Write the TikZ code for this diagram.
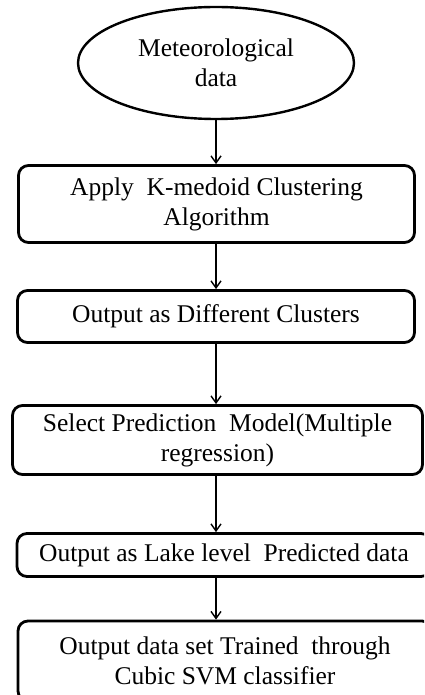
\documentclass[tikz,border=0pt]{standalone}
\usepackage{fontspec}
\setmainfont{Liberation Serif}
\usetikzlibrary{arrows.meta,shapes.geometric}

\begin{document}
\begin{tikzpicture}[x=0.5pt,y=-0.5pt,->,>={Straight Barb[length=3.5pt,width=5pt]},line width=0.7pt,
  start node/.style={ellipse,draw,line width=1.2pt,minimum width=138pt,minimum height=56pt,
    inner sep=0pt,align=center,font=\fontsize{12.75}{15}\selectfont},
  step node/.style={rectangle,rounded corners=5pt,draw,line width=1.4pt,inner sep=0pt,
    align=center,font=\fontsize{12.75}{15}\selectfont}]

  \useasboundingbox (0,0) rectangle (424,695);
  \clip (0,0) rectangle (424,695);

  \node[start node] (m) at (216,63) {Meteorological\\data};
  \node[step node,minimum width=198pt,minimum height=38.5pt] (k) at (216.5,204) {Apply\ \ K-medoid Clustering\\Algorithm};
  \node[step node,minimum width=198.5pt,minimum height=26pt] (c) at (216,316.5) {Output as Different Clusters};
  \node[step node,minimum width=205pt,minimum height=34.5pt] (s) at (217.5,440) {Select Prediction\ \ Model(Multiple\\regression)};
  \node[step node,minimum width=207pt,minimum height=21.5pt] (l) at (224,555) {Output as Lake level\ \ Predicted data};
  \node[step node,minimum width=207pt,minimum height=40pt] (t) at (225,661) {Output data set Trained\ \ through\\Cubic SVM classifier};

  \path
    (m) edge (k.north -| m)
    (k.south -| m) edge (c.north -| m)
    (c.south -| m) edge (s.north -| m)
    (s.south -| m) edge (l.north -| m)
    (l.south -| m) edge (t.north -| m);

\end{tikzpicture}
\end{document}
